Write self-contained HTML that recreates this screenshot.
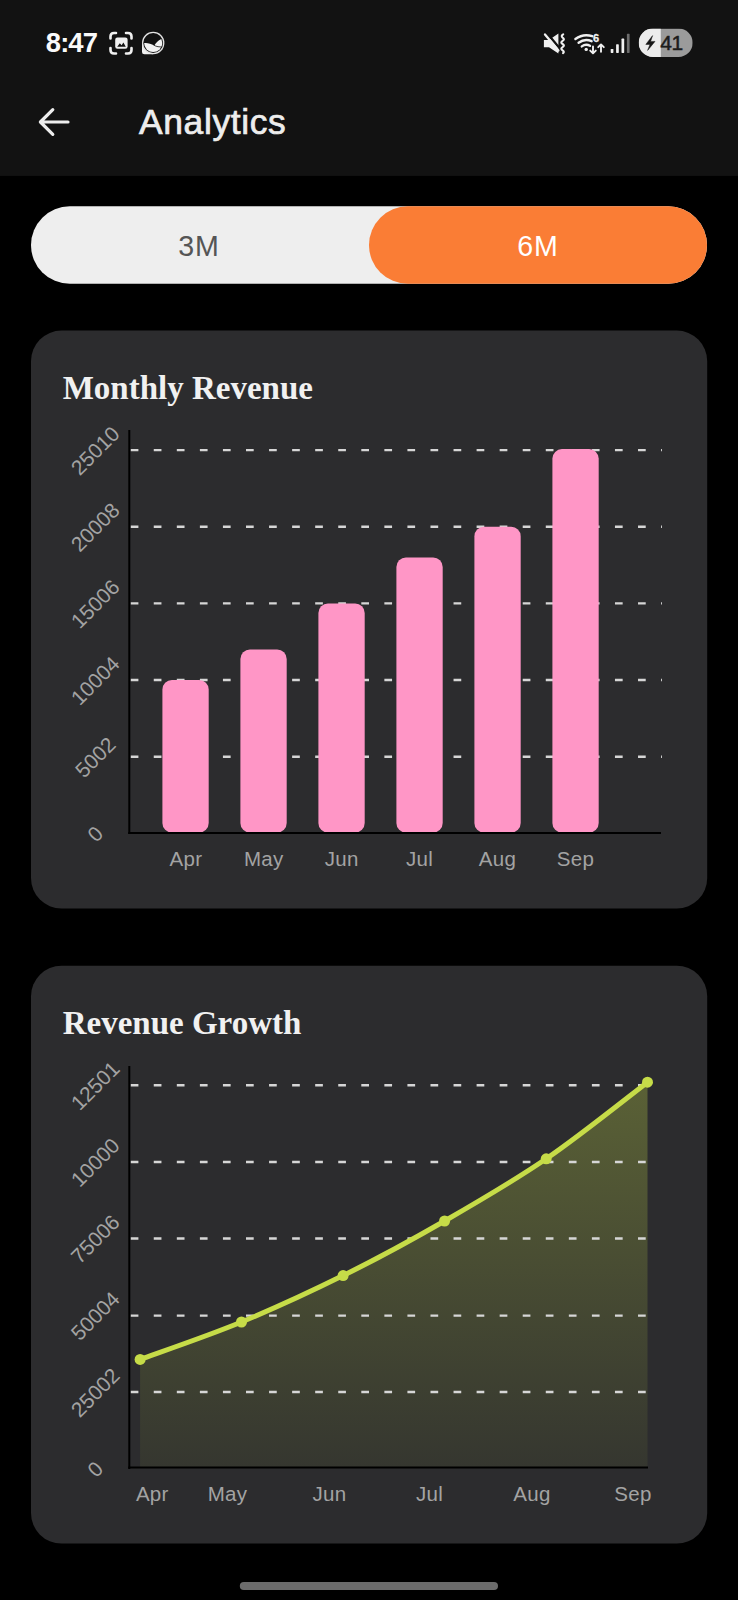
<!DOCTYPE html>
<html lang="en">
<head>
<meta charset="utf-8">
<title>Analytics</title>
<style>
  html, body { margin: 0; padding: 0; background: #000; }
  body { width: 738px; height: 1600px; position: relative; overflow: hidden;
         font-family: "Liberation Sans", sans-serif; }
  .abs { position: absolute; }
  #header { left: 0; top: 0; width: 738px; height: 176px; background: #121212; }
  #time { left: 45.8px; top: 27.9px; font-size: 27.4px; letter-spacing: -0.9px; font-weight: bold; color: #fafafa; line-height: 30px; white-space: nowrap; }
  #title { left: 139px; top: 102.2px; font-size: 35.4px; letter-spacing: 0.65px; color: #ededed; line-height: 40px; white-space: nowrap; -webkit-text-stroke: 0.7px #ededed; }
  #seg { left: 31px; top: 206.4px; width: 676px; height: 77.4px; border-radius: 39px; background: #eeeeee; }
  #segR { left: 369px; top: 206.4px; width: 338px; height: 77.4px; border-radius: 39px; background: #fa7d35; }
  .segt { top: 207.6px; letter-spacing: 0.8px; width: 338px; height: 77px; line-height: 77px; text-align: center; font-size: 28.6px; }
  .card { left: 31px; width: 676px; height: 577.8px; border-radius: 30px; background: #2c2c2e; }
  .ctitle { left: 62.7px; font-family: "Liberation Serif", serif; font-weight: bold; font-size: 33px; line-height: 40px; color: #f1f1f1; white-space: nowrap; transform-origin: 0 50%; }
  #home { left: 240px; top: 1582px; width: 258px; height: 8px; border-radius: 4px; background: #6b6b6b; }
  svg text { font-family: "Liberation Sans", sans-serif; }
</style>
</head>
<body>
<svg class="abs" style="left:0;top:0;" width="738" height="1600" viewBox="0 0 738 1600">
  <rect x="0" y="0" width="738" height="175.900" fill="#121212"/>
  <rect x="31" y="206.300" width="676" height="77.500" rx="38.750" fill="#eeeeee"/>
  <rect x="369" y="206.300" width="338" height="77.500" rx="38.750" fill="#fa7d35"/>
  <rect x="31" y="330.600" width="676.200" height="577.900" rx="30.500" fill="#2c2c2e"/>
  <rect x="31" y="965.700" width="676.200" height="577.900" rx="30.500" fill="#2c2c2e"/>
  <rect x="239.800" y="1582" width="258.200" height="8" rx="4" fill="#6b6b6b"/>
</svg>
<div id="time" class="abs">8:47</div>
<div id="title" class="abs">Analytics</div>

<div class="abs segt" style="left:30px;color:#555;">3M</div>
<div class="abs segt" style="left:369px;color:#fff;">6M</div>

<div class="abs ctitle" style="top:368.4px;">Monthly Revenue</div>

<div class="abs ctitle" style="top:1002.6px;">Revenue Growth</div>


<svg class="abs" style="left:0;top:0;" width="738" height="1600" viewBox="0 0 738 1600">
  <!-- icons:start -->
<g id="icons">
  <!-- back arrow -->
  <path d="M68,122 H40.6 M52.8,109.6 L40.4,122 L52.8,134.4" fill="none" stroke="#ededed" stroke-width="3.2" stroke-linecap="round" stroke-linejoin="round"/>
  <!-- capture icon -->
  <g fill="none" stroke="#f0f0f0" stroke-width="2.6" stroke-linecap="round">
    <path d="M110.5,38.5 V36.5 Q110.5,33 114,33 H116"/>
    <path d="M126,33 H128 Q131.5,33 131.5,36.5 V38.5"/>
    <path d="M131.5,48 V50 Q131.5,53.5 128,53.5 H126"/>
    <path d="M116,53.5 H114 Q110.500,53.5 110.5,50 V48"/>
  </g>
  <rect x="115.200" y="37.600" width="12.400" height="11.200" rx="2.200" fill="#f0f0f0"/>
  <path d="M117.200,46.800 L119.800,43.200 L121.600,45.200 L123.400,42.600 L125.800,46.800 Z" fill="#121212"/>
  <!-- bubble icon -->
  <path d="M142,43 V51.800 Q142,54.300 144.500,54.300 H153.200 Z" fill="#f0f0f0"/>
  <circle cx="153.200" cy="43" r="11.200" fill="#e4e4e4"/>
  <circle cx="153.200" cy="43" r="9.950" fill="#121212"/>
  <clipPath id="bubclip"><circle cx="153.200" cy="43" r="9.100"/></clipPath>
  <g clip-path="url(#bubclip)">
    <path d="M143,43.300 C146.500,42.300 150.400,43.500 154.300,45.400 C156,42.600 158.400,40.300 160.900,39.200 L165,38 V55 H143 Z" fill="#f4f4f4"/>
    <path d="M153.600,45 C156.400,46.700 159.400,47.300 163,46.600" fill="none" stroke="#121212" stroke-width="0.800"/>
  </g>
  <!-- mute/vibrate -->
  <path d="M543.900,40 H549 L558.400,33.600 V53.400 L549,47.300 H543.900 Z" fill="#f0f0f0"/>
  <path d="M545.500,31.200 L560.600,49.400" fill="none" stroke="#121212" stroke-width="2.400"/>
  <path d="M545,34.400 L558.400,50.600" fill="none" stroke="#f0f0f0" stroke-width="2.300" stroke-linecap="round"/>
  <path d="M563.200,34.400 q-2.600,1.600 -0.600,3.200 q2.600,1.600 0,3.200 q-2.600,1.600 0,3.200 q2.600,1.600 0,3.200 q-2.600,1.600 0,3.200 q2.200,1.500 0.400,2.800" fill="none" stroke="#f0f0f0" stroke-width="2.100" stroke-linecap="round"/>
  <!-- wifi -->
  <g fill="none" stroke="#f0f0f0" stroke-width="2.400" stroke-linecap="round">
    <path d="M575.400,39 A19,19 0 0 1 592.200,36.200"/>
    <path d="M578.600,42.800 A13,13 0 0 1 591.600,41.200"/>
    <path d="M581.800,46.400 A7.500,7.500 0 0 1 590,45.800"/>
  </g>
  <circle cx="586.200" cy="49.400" r="1.700" fill="#f0f0f0"/>
  <text x="593.100" y="42.200" font-size="11" font-weight="bold" fill="#f0f0f0" stroke="#f0f0f0" stroke-width="0.300">6</text>
  <g fill="none" stroke="#f0f0f0" stroke-width="1.900" stroke-linecap="round" stroke-linejoin="round">
    <path d="M593,46.400 V53.200 M590.200,50.600 L593,53.400 L595.800,50.600"/>
    <path d="M601,51.800 V44.600 M598.200,47.200 L601,44.400 L603.800,47.200"/>
  </g>
  <!-- signal -->
  <rect x="610.700" y="49" width="2.700" height="3.900" rx="0.600" fill="#f0f0f0"/>
  <rect x="616.100" y="44.300" width="2.700" height="8.600" rx="0.600" fill="#f0f0f0"/>
  <rect x="621.500" y="38.600" width="2.700" height="14.300" rx="0.600" fill="#f0f0f0"/>
  <rect x="626.900" y="33.800" width="2.700" height="19.100" rx="0.600" fill="#6c6c6c"/>
  <!-- battery -->
  <clipPath id="bclip"><rect x="638.700" y="28.600" width="54" height="28.400" rx="14.200"/></clipPath>
  <g clip-path="url(#bclip)">
    <rect x="638.700" y="28.600" width="54" height="28.400" fill="#9b9b9b"/>
    <rect x="638.700" y="28.600" width="22.100" height="28.400" fill="#ececec"/>
  </g>
  <path d="M652.600,35.600 L645.800,44.400 H650 L647.600,50.400 L655,41.400 H650.600 Z" fill="#161616" stroke="#161616" stroke-width="0.500" stroke-linejoin="round"/>
  <text x="660.300" y="50.300" font-size="21" fill="#1c1c1c" stroke="#1c1c1c" stroke-width="0.500" letter-spacing="-0.500">41</text>
</g>
<!-- icons:end -->
  <!-- charts:start -->
  <g id="barchart">
  <line x1="130.7" y1="450.1" x2="662" y2="450.1" stroke="#d6d6d6" stroke-width="2.4" stroke-dasharray="7.7 15.36"/>
  <line x1="130.7" y1="526.8" x2="662" y2="526.8" stroke="#d6d6d6" stroke-width="2.4" stroke-dasharray="7.7 15.36"/>
  <line x1="130.7" y1="603.4" x2="662" y2="603.4" stroke="#d6d6d6" stroke-width="2.4" stroke-dasharray="7.7 15.36"/>
  <line x1="130.7" y1="680.0" x2="662" y2="680.0" stroke="#d6d6d6" stroke-width="2.4" stroke-dasharray="7.7 15.36"/>
  <line x1="130.7" y1="756.7" x2="662" y2="756.7" stroke="#d6d6d6" stroke-width="2.4" stroke-dasharray="7.7 15.36"/>
  <rect x="162.4" y="680.0" width="46.3" height="152.6" rx="9.5" ry="9.5" fill="#ff96c6"/>
  <rect x="240.4" y="649.4" width="46.3" height="183.2" rx="9.5" ry="9.5" fill="#ff96c6"/>
  <rect x="318.4" y="603.4" width="46.3" height="229.2" rx="9.5" ry="9.5" fill="#ff96c6"/>
  <rect x="396.4" y="557.4" width="46.3" height="275.2" rx="9.5" ry="9.5" fill="#ff96c6"/>
  <rect x="474.4" y="526.8" width="46.3" height="305.8" rx="9.5" ry="9.5" fill="#ff96c6"/>
  <rect x="552.4" y="449.1" width="46.3" height="383.5" rx="9.5" ry="9.5" fill="#ff96c6"/>
  <line x1="129.3" y1="430" x2="129.3" y2="834" stroke="#000" stroke-width="2"/>
  <line x1="128.3" y1="833" x2="661" y2="833" stroke="#000" stroke-width="2"/>
  <text transform="translate(95.2,450.6) rotate(-45)" text-anchor="middle" dy="7.4" font-size="21" fill="#a3a3a3">25010</text>
  <text transform="translate(95.2,527.2) rotate(-45)" text-anchor="middle" dy="7.4" font-size="21" fill="#a3a3a3">20008</text>
  <text transform="translate(95.2,603.9) rotate(-45)" text-anchor="middle" dy="7.4" font-size="21" fill="#a3a3a3">15006</text>
  <text transform="translate(95.2,680.6) rotate(-45)" text-anchor="middle" dy="7.4" font-size="21" fill="#a3a3a3">10004</text>
  <text transform="translate(95.2,757.2) rotate(-45)" text-anchor="middle" dy="7.4" font-size="21" fill="#a3a3a3">5002</text>
  <text transform="translate(95.2,833.9) rotate(-45)" text-anchor="middle" dy="7.4" font-size="21" fill="#a3a3a3">0</text>
  <text x="185.9" y="866.3" text-anchor="middle" font-size="20.5" letter-spacing="0.3" fill="#a3a3a3">Apr</text>
  <text x="263.8" y="866.3" text-anchor="middle" font-size="20.5" letter-spacing="0.3" fill="#a3a3a3">May</text>
  <text x="341.7" y="866.3" text-anchor="middle" font-size="20.5" letter-spacing="0.3" fill="#a3a3a3">Jun</text>
  <text x="419.6" y="866.3" text-anchor="middle" font-size="20.5" letter-spacing="0.3" fill="#a3a3a3">Jul</text>
  <text x="497.5" y="866.3" text-anchor="middle" font-size="20.5" letter-spacing="0.3" fill="#a3a3a3">Aug</text>
  <text x="575.4" y="866.3" text-anchor="middle" font-size="20.5" letter-spacing="0.3" fill="#a3a3a3">Sep</text>
  </g>
  <g id="linechart">
  <defs><linearGradient id="lg" x1="0" y1="1082" x2="0" y2="1467" gradientUnits="userSpaceOnUse"><stop offset="0" stop-color="#c6dc48" stop-opacity="0.3"/><stop offset="1" stop-color="#c6dc48" stop-opacity="0.06"/></linearGradient></defs>
  <path d="M140.1,1359.4 C157.0,1353.2 207.7,1336.0 241.5,1322.0 C275.3,1308.0 309.2,1292.4 343.1,1275.6 C377.0,1258.8 410.8,1240.5 444.6,1221.0 C478.5,1201.5 512.4,1181.9 546.2,1158.8 C580.0,1135.7 630.6,1095.0 647.5,1082.2 L647.5,1467 L140.1,1467 Z" fill="url(#lg)"/>
  <line x1="130.7" y1="1085.2" x2="646.4" y2="1085.2" stroke="#d6d6d6" stroke-width="2.4" stroke-dasharray="7.7 15.36"/>
  <line x1="130.7" y1="1162.0" x2="646.4" y2="1162.0" stroke="#d6d6d6" stroke-width="2.4" stroke-dasharray="7.7 15.36"/>
  <line x1="130.7" y1="1238.5" x2="646.4" y2="1238.5" stroke="#d6d6d6" stroke-width="2.4" stroke-dasharray="7.7 15.36"/>
  <line x1="130.7" y1="1315.6" x2="646.4" y2="1315.6" stroke="#d6d6d6" stroke-width="2.4" stroke-dasharray="7.7 15.36"/>
  <line x1="130.7" y1="1392.0" x2="646.4" y2="1392.0" stroke="#d6d6d6" stroke-width="2.4" stroke-dasharray="7.7 15.36"/>
  <path d="M140.1,1359.4 C157.0,1353.2 207.7,1336.0 241.5,1322.0 C275.3,1308.0 309.2,1292.4 343.1,1275.6 C377.0,1258.8 410.8,1240.5 444.6,1221.0 C478.5,1201.5 512.4,1181.9 546.2,1158.8 C580.0,1135.7 630.6,1095.0 647.5,1082.2" fill="none" stroke="#c6dc48" stroke-width="5" stroke-linecap="round" stroke-linejoin="round"/>
  <circle cx="140.1" cy="1359.4" r="5.5" fill="#c6dc48"/>
  <circle cx="241.5" cy="1322.0" r="5.5" fill="#c6dc48"/>
  <circle cx="343.1" cy="1275.6" r="5.5" fill="#c6dc48"/>
  <circle cx="444.6" cy="1221.0" r="5.5" fill="#c6dc48"/>
  <circle cx="546.2" cy="1158.8" r="5.5" fill="#c6dc48"/>
  <circle cx="647.5" cy="1082.2" r="5.5" fill="#c6dc48"/>
  <line x1="129.3" y1="1066" x2="129.3" y2="1469" stroke="#000" stroke-width="2"/>
  <line x1="128.3" y1="1467.6" x2="648" y2="1467.6" stroke="#000" stroke-width="2"/>
  <text transform="translate(95.2,1085.7) rotate(-45)" text-anchor="middle" dy="7.4" font-size="21" fill="#a3a3a3">12501</text>
  <text transform="translate(95.2,1162.4) rotate(-45)" text-anchor="middle" dy="7.4" font-size="21" fill="#a3a3a3">10000</text>
  <text transform="translate(95.2,1239.1) rotate(-45)" text-anchor="middle" dy="7.4" font-size="21" fill="#a3a3a3">75006</text>
  <text transform="translate(95.2,1315.8) rotate(-45)" text-anchor="middle" dy="7.4" font-size="21" fill="#a3a3a3">50004</text>
  <text transform="translate(95.2,1392.5) rotate(-45)" text-anchor="middle" dy="7.4" font-size="21" fill="#a3a3a3">25002</text>
  <text transform="translate(95.2,1469.2) rotate(-45)" text-anchor="middle" dy="7.4" font-size="21" fill="#a3a3a3">0</text>
  <text x="152.3" y="1501" text-anchor="middle" font-size="20.5" letter-spacing="0.3" fill="#a3a3a3">Apr</text>
  <text x="227.5" y="1501" text-anchor="middle" font-size="20.5" letter-spacing="0.3" fill="#a3a3a3">May</text>
  <text x="329.5" y="1501" text-anchor="middle" font-size="20.5" letter-spacing="0.3" fill="#a3a3a3">Jun</text>
  <text x="429.6" y="1501" text-anchor="middle" font-size="20.5" letter-spacing="0.3" fill="#a3a3a3">Jul</text>
  <text x="532" y="1501" text-anchor="middle" font-size="20.5" letter-spacing="0.3" fill="#a3a3a3">Aug</text>
  <text x="633" y="1501" text-anchor="middle" font-size="20.5" letter-spacing="0.3" fill="#a3a3a3">Sep</text>
  </g>
  <!-- charts:end -->
</svg>
</body>
</html>
